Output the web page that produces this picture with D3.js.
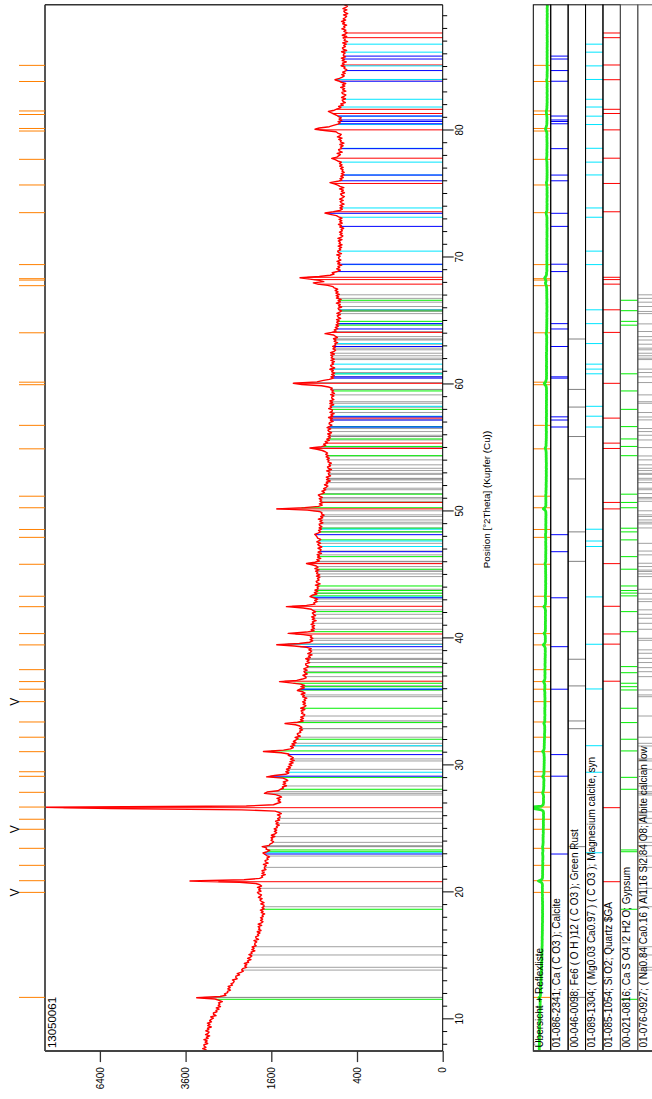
<!DOCTYPE html>
<html>
<head>
<meta charset="utf-8">
<script src="https://cdn.jsdelivr.net/npm/d3@7"></script>
<style>
  html, body { margin: 0; padding: 0; background: #ffffff; }
  svg { display: block; font-family: "Liberation Sans", Arial, Helvetica, sans-serif; }
</style>
</head>
<body>
<svg id="chart" width="652" height="1099"></svg>
<script>
// ---- scan: counts every 0.1 deg 2Theta starting at 7.5 deg ----
const thetaStart = 7.5;
const thetaStep = 0.1;
const counts = [
  3120,3047,3137,3051,3102,
  3104,3007,3073,3021,3106,2996,3042,2958,3063,2998,
  2972,3058,2980,3013,2916,3008,2949,3015,2911,2958,
  2919,2864,2933,2798,2861,2864,2775,2799,2724,2793,
  2689,2743,2704,2737,2644,2725,2820,3296,2700,2560,
  2594,2517,2524,2453,2515,2461,2506,2408,2442,2382,
  2368,2406,2300,2331,2330,2246,2300,2221,2165,2202,
  2180,2096,2137,2088,2144,2050,2076,2002,2073,2014,
  1985,2045,1980,2000,1920,1985,1935,1980,1895,1925,
  1920,1884,1940,1847,1897,1906,1846,1868,1819,1874,
  1797,1847,1822,1854,1784,1855,1790,1759,1806,1766,
  1808,1755,1774,1726,1793,1758,1810,1737,1777,1738,
  1741,1802,1738,1793,1820,1775,1850,1809,1788,1849,
  1869,1797,1844,1806,1868,1786,1820,1900,2250,3478,
  2150,1826,1766,1788,1714,1779,1734,1779,1700,1732,
  1730,1695,1751,1659,1710,1719,1660,1683,1634,1690,
  1720,1760,1680,1630,1700,1690,1775,1640,1625,1580,
  1559,1604,1576,1604,1534,1599,1534,1502,1543,1501,
  1547,1491,1505,1454,1513,1476,1521,1447,1484,1442,
  1442,1487,1418,1462,1530,2200,6000,8614,2100,1560,
  1498,1429,1476,1440,1496,1415,1450,1520,1730,1680,
  1480,1442,1383,1401,1329,1389,1343,1384,1307,1335,
  1390,1690,1540,1345,1290,1340,1285,1330,1262,1300,
  1240,1285,1218,1270,1200,1262,1215,1250,1300,1290,
  1420,1750,1380,1260,1215,1262,1190,1238,1172,1215,
  1173,1140,1187,1104,1147,1151,1097,1114,1069,1116,
  1080,1112,1180,1354,1150,1060,1102,1055,1098,1048,
  1037,1084,1063,1092,1035,1098,1044,1019,1061,1027,
  1069,1025,1045,1006,1068,1042,1091,1031,1072,1150,
  1110,1042,1095,1038,1100,1260,1450,1160,1070,1015,
  1024,1064,1000,1036,1048,1000,1052,1008,980,1020,
  1024,964,1003,971,1022,954,981,929,992,952,
  935,975,942,1010,1200,1500,1120,965,920,958,
  918,952,935,1060,1300,1010,900,942,895,930,
  893,944,904,925,872,926,895,936,880,909,
  925,880,918,940,1060,1330,1010,890,905,858,
  892,852,905,960,930,862,898,850,890,845,
  857,836,882,818,861,871,832,854,822,868,
  823,866,851,880,834,890,848,870,930,1010,
  890,830,862,810,853,828,858,800,846,812,
  806,847,796,833,849,812,864,830,811,852,
  860,875,892,848,812,840,800,832,795,826,
  831,781,820,794,842,784,811,767,801,795,
  830,1000,1500,1040,840,790,828,782,820,798,
  830,788,825,842,786,762,795,745,772,738,
  718,762,721,738,689,735,705,738,685,708,
  712,692,734,674,714,723,685,704,675,718,
  705,728,700,740,712,745,722,750,790,860,
  960,800,745,772,722,752,700,732,688,715,
  687,721,673,705,718,683,728,696,669,703,
  699,653,688,664,710,657,681,642,693,664,
  664,708,673,691,647,694,660,694,645,668,
  672,645,684,638,668,650,682,665,710,800,
  1080,1215,860,790,700,648,680,640,672,636,
  671,652,694,636,675,684,649,668,639,681,
  641,677,660,682,638,685,644,625,656,630,
  659,624,634,602,642,619,650,603,628,650,
  754,672,618,640,600,628,592,620,585,612,
  583,614,567,595,605,570,610,578,558,589,
  596,556,591,572,616,570,596,562,615,590,
  618,582,622,596,630,600,640,655,720,850,
  912,770,830,960,1109,830,690,642,665,605,
  570,612,579,597,555,600,576,609,564,588,
  591,573,612,558,593,601,567,584,557,595,
  551,585,571,593,552,598,560,543,574,551,
  580,549,562,534,577,558,592,549,577,555,
  585,552,590,615,690,754,650,578,548,575,
  543,575,530,560,572,539,579,547,526,557,
  568,526,559,538,580,532,575,600,640,692,
  600,552,575,538,566,530,560,528,553,540,
  568,540,578,552,580,560,600,630,671,610,
  591,570,607,550,583,590,554,569,540,576,
  531,570,561,588,552,604,572,561,600,620,
  760,888,830,700,650,598,572,596,555,585,
  560,590,612,645,680,712,640,605,565,590,
  538,566,516,541,550,515,557,527,511,547,
  553,511,545,524,567,522,548,512,560,590,
  632,580,548,528,555,518,545,512,502,530,
  520,562,529,547,505,550,526,559,514,538,
  536,518,557,503,539,548,515,533,506,545,
  493,529,517,541,502,550,514,499,532,511,
  554,521,533,503,545,524,557,512,539,515,
  503,536,491,521,533,500,542,512,494,527
];

// ---- peak list (deg 2Theta) and the peaks flagged with "V" ----
const peakList = [11.73,20.0,20.92,22.13,23.47,24.97,25.76,26.72,27.88,29.14,29.5,31.08,32.22,33.42,
  35.02,36.0,36.6,37.54,39.49,40.38,42.5,43.32,45.84,47.96,48.58,50.29,51.2,54.93,56.78,59.98,
  60.18,64.07,67.78,68.22,68.33,69.44,73.53,75.71,77.73,79.96,80.16,81.26,81.54,83.86,85.13];
const flaggedPeaks = [20.0, 24.97, 35.02];

// ---- reference patterns (deg 2Theta) ----
const calciteLines = [23.02,29.15,30.85,36.0,39.35,43.2,46.83,48.17,56.65,57.2,57.45,60.5,60.6,62.99,
  64.37,64.79,68.89,69.47,72.45,73.48,76.04,76.49,78.57,80.53,80.71,80.83,81.14,83.88,84.72,85.63,85.86];
const greenRustLines = [11.73,23.6,32.89,33.5,36.26,38.36,46.07,48.39,52.56,55.9,58.22,59.61,63.58];
const mgCalciteLines = [23.12,29.46,31.55,36.02,39.54,43.27,47.24,47.67,48.6,56.65,57.5,58.28,60.84,
  61.21,61.6,63.22,64.79,65.88,69.44,70.5,73.17,73.9,76.5,77.51,78.6,80.47,81.13,81.85,82.46,84.02,
  85.09,86.17,86.8];
const quartzLines = [20.84,26.67,36.63,39.55,40.35,42.53,45.89,50.2,50.71,54.96,55.38,57.35,60.09,
  64.1,65.88,67.9,68.26,68.44,73.6,75.83,77.82,80.05,81.34,81.67,84.0,85.16,87.31,87.68];
const gypsumLines = [11.58,18.67,23.2,23.34,28.12,29.06,31.14,32.06,33.37,34.5,35.94,36.2,36.47,37.3,
  37.78,40.53,42.11,43.35,43.57,43.77,44.13,45.45,46.44,47.76,48.39,48.68,50.29,50.71,51.36,54.39,
  55.12,55.71,56.68,58.04,59.49,60.84,64.67,64.97,65.81,66.63];
const albiteLines = [13.88,14.1,15.07,15.72,18.87,20.32,21.97,22.86,23.68,23.94,24.39,25.44,25.83,
  26.35,27.67,27.8,27.93,28.38,29.69,30.35,30.51,31.53,31.74,32.22,33.89,35.41,35.55,35.94,36.99,
  37.38,37.7,38.1,38.43,38.83,39.1,39.85,40.01,40.72,41.19,41.59,41.9,42.25,42.9,43.1,43.55,43.87,
  44.87,45.08,45.27,45.38,45.66,45.92,46.58,46.88,47.49,48.7,49.02,49.15,49.33,49.6,49.73,50.05,
  50.8,50.99,51.1,51.41,51.71,51.83,52.27,52.48,52.61,52.92,53.0,53.22,53.4,53.67,54.06,54.37,
  55.03,55.63,56.0,56.29,56.53,57.21,57.44,57.79,58.52,58.64,59.18,60.15,60.6,60.94,61.21,61.96,
  62.07,62.26,62.46,62.73,62.86,63.17,63.5,63.77,64.17,64.77,65.58,65.75,66.14,66.48,66.78,67.06];

const phaseLabels = [
  "01-086-2341; Ca ( C O3 ); Calcite",
  "00-046-0098; Fe6 ( O H )12 ( C O3 ); Green Rust",
  "01-089-1304; ( Mg0.03 Ca0.97 ) ( C O3 ); Magnesium calcite, syn",
  "01-085-1054; Si O2; Quartz $GA",
  "00-021-0816; Ca S O4 !2 H2 O; Gypsum",
  "01-076-0927; ( Na0.84 Ca0.16 ) Al1.16 Si2.84 O8; Albite calcian low"
];
const phaseColors = ["#0000ff", "#808080", "#00e5ff", "#ff0000", "#00ee00", "#a0a0a0"];
const overviewLabel = "Übersicht + Reflexliste";

const intensityTicks = [0, 400, 1600, 3600, 6400];
const thetaTicks = [10, 20, 30, 40, 50, 60, 70, 80];
const sampleName = "13050061";
const thetaTitle = "Position [°2Theta] (Kupfer (Cu))";

// ---- layout: the chart is laid out landscape and turned onto the portrait page ----
const PAGE_H = 1099;
const svg = d3.select("#chart");
const g = svg.append("g").attr("transform", `translate(0,${PAGE_H}) rotate(-90)`);

const x = d3.scaleLinear().domain([7.5, 89.9]).range([47.9, 1094.2]);
const maxCount = d3.max(counts);
const plotTop = 45, plotBase = 442.7;
const y = d3.scaleSqrt().domain([0, maxCount]).range([plotBase, plotTop]);

const scanTheta = counts.map((_, i) => +(thetaStart + i * thetaStep).toFixed(2));
const observedAt = d3.scaleLinear().domain(scanTheta).range(counts).clamp(true);

const phases = phaseLabels.map((label, i) => ({
  label, color: phaseColors[i],
  lines: [calciteLines, greenRustLines, mgCalciteLines, quartzLines, gypsumLines, albiteLines][i]
}));

// reference sticks in the main plot (drawn up to the observed profile)
const drawOrder = [5, 1, 4, 3, 2, 0];
drawOrder.forEach(k => {
  const p = phases[k];
  g.append("g").selectAll("line").data(p.lines).join("line")
    .attr("x1", d => x(d)).attr("x2", d => x(d))
    .attr("y1", y(0)).attr("y2", d => y(observedAt(d)))
    .attr("stroke", p.color).attr("stroke-width", 1);
});

// observed pattern
const line = d3.line().x((d, i) => x(scanTheta[i])).y(d => y(d));
g.append("path").datum(counts)
  .attr("d", line).attr("fill", "none")
  .attr("stroke", "#ff0000").attr("stroke-width", 1.4).attr("stroke-linejoin", "round");

// frame of the main plot
const [x0, x1] = x.range();
g.append("line").attr("x1", x0).attr("x2", x1).attr("y1", plotTop).attr("y2", plotTop)
  .attr("stroke", "#555").attr("stroke-width", 2);
g.append("line").attr("x1", x1).attr("x2", x1).attr("y1", plotTop).attr("y2", plotBase)
  .attr("stroke", "#333").attr("stroke-width", 1.5);
g.append("line").attr("x1", x0).attr("x2", x0).attr("y1", plotTop).attr("y2", plotBase)
  .attr("stroke", "#444").attr("stroke-width", 2);
g.append("line").attr("x1", x0).attr("x2", x1).attr("y1", plotBase).attr("y2", plotBase)
  .attr("stroke", "#000").attr("stroke-width", 1);

// 2Theta axis: minor ticks every degree, labelled ticks every ten
const minorTicks = d3.range(8, 90, 1).filter(t => t % 10 !== 0);
g.append("g").attr("transform", `translate(0,${plotBase})`)
  .call(d3.axisBottom(x).tickValues(minorTicks).tickSize(4.5).tickFormat("").tickSizeOuter(0))
  .call(a => a.select(".domain").remove())
  .call(a => a.selectAll("line").attr("stroke", "#000"));
g.append("g").attr("transform", `translate(0,${plotBase})`)
  .call(d3.axisBottom(x).tickValues(thetaTicks).tickSize(11).tickPadding(2).tickSizeOuter(0))
  .call(a => a.select(".domain").remove())
  .call(a => a.selectAll("text").attr("font-size", 10).attr("font-family", null).attr("fill", "#000"));

// intensity axis (square-root scale)
g.append("g").attr("transform", `translate(${x0},0)`)
  .call(d3.axisLeft(y).tickValues(intensityTicks).tickFormat(d3.format("d"))
    .tickSize(11).tickPadding(5).tickSizeOuter(0))
  .call(a => a.select(".domain").remove())
  .call(a => a.selectAll("line").attr("stroke", "#333").attr("stroke-width", 1.3))
  .call(a => a.selectAll("text").attr("font-size", 10).attr("font-family", null).attr("fill", "#000"));

g.append("text").attr("x", 599.5).attr("y", 489.5).attr("text-anchor", "middle")
  .attr("font-size", 9.8).text(thetaTitle);
g.append("text").attr("x", x0 + 3).attr("y", plotTop + 10.5)
  .attr("font-size", 11.5).text(sampleName);

// peak list markers above the plot, with flagged peaks
g.append("g").selectAll("line").data(peakList).join("line")
  .attr("x1", d => x(d)).attr("x2", d => x(d)).attr("y1", 19).attr("y2", plotTop)
  .attr("stroke", "#ff8000").attr("stroke-width", 1);
g.append("g").selectAll("text").data(flaggedPeaks).join("text")
  .attr("x", d => x(d)).attr("y", 18.5).attr("text-anchor", "middle")
  .attr("font-size", 12).text("V");

// ---- pattern list strip ----
const rowNames = [overviewLabel, ...phaseLabels];
const band = d3.scaleBand().domain(rowNames).range([533.3, 655.2]);
const bw = band.bandwidth();

// overview: observed pattern in the first row with peak list
const ovTop = band(overviewLabel);
const ov = d3.scaleSqrt().domain([0, maxCount]).range([ovTop + bw + 2, ovTop - 3]);
g.append("g").selectAll("line").data(peakList).join("line")
  .attr("x1", d => x(d)).attr("x2", d => x(d))
  .attr("y1", ovTop).attr("y2", ovTop + bw)
  .attr("stroke", "#ff8000").attr("stroke-width", 1);
g.append("clipPath").attr("id", "ovclip").append("rect")
  .attr("x", x.range()[0]).attr("y", ovTop).attr("width", x.range()[1] - x.range()[0]).attr("height", bw);
g.append("path").datum(counts)
  .attr("clip-path", "url(#ovclip)")
  .attr("d", d3.line().x((d, i) => x(scanTheta[i])).y(d => ov(d)))
  .attr("fill", "none").attr("stroke", "#22ee22").attr("stroke-width", 2.8)
  .attr("stroke-linejoin", "round");

phases.forEach(p => {
  g.append("g").selectAll("line").data(p.lines).join("line")
    .attr("x1", d => x(d)).attr("x2", d => x(d))
    .attr("y1", band(p.label)).attr("y2", band(p.label) + bw)
    .attr("stroke", p.color).attr("stroke-width", 1);
});

rowNames.forEach((name, i) => {
  g.append("rect").attr("x", x0).attr("y", band(name)).attr("width", x1 - x0).attr("height", bw)
    .attr("fill", "none").attr("stroke", i >= 5 ? "#555" : "#000").attr("stroke-width", 1);
  g.append("text").attr("x", x0 + 3.5).attr("y", band(name) + 9.5)
    .attr("font-size", 10).text(name);
});
g.append("line").attr("x1", x0).attr("x2", x0).attr("y1", band.range()[0]).attr("y2", band.range()[1])
  .attr("stroke", "#444").attr("stroke-width", 2);
</script>
</body>
</html>
